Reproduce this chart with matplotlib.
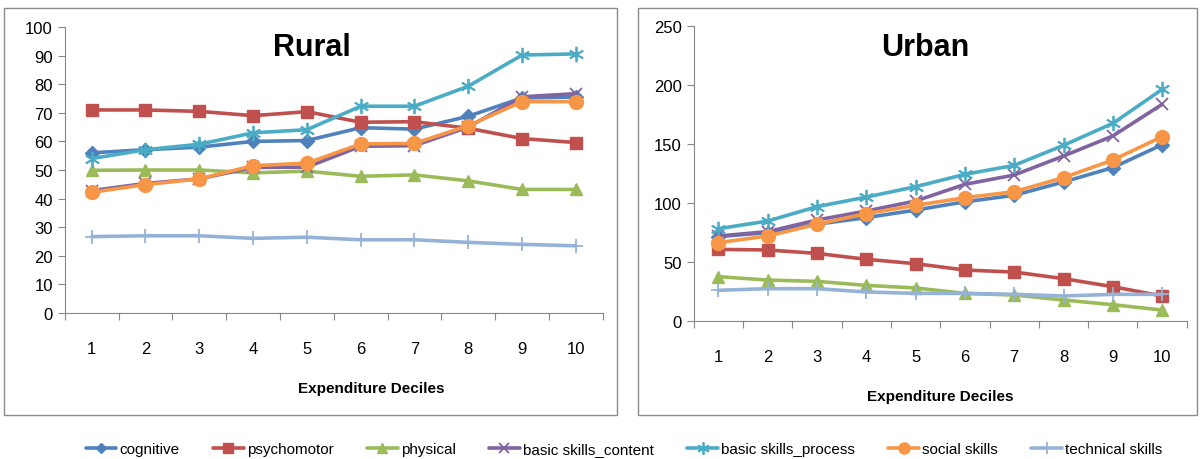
import matplotlib.pyplot as plt
from matplotlib.patches import Rectangle

plt.rcParams['font.family'] = ['Liberation Sans', 'DejaVu Sans']

deciles = [1, 2, 3, 4, 5, 6, 7, 8, 9, 10]

series_names = ['cognitive', 'psychomotor', 'physical', 'basic skills_content',
                'basic skills_process', 'social skills', 'technical skills']

rural_cognitive = [56, 57.1, 58, 60, 60.3, 64.8, 64.3, 68.8, 75.2, 75.5]
rural_psychomotor = [71, 71, 70.5, 69, 70.4, 66.7, 66.9, 64.6, 61, 59.6]
rural_physical = [49.9, 50, 50, 49, 49.6, 47.8, 48.3, 46.2, 43.2, 43.2]
rural_content = [42.8, 45.3, 46.9, 50.9, 51, 58.3, 58.5, 65, 75.6, 76.7]
rural_process = [54, 57.1, 59, 63, 64.1, 72.3, 72.3, 79.3, 90.2, 90.6]
rural_social = [42.2, 44.9, 46.9, 51.5, 52.4, 59.1, 59.3, 65.5, 73.9, 73.9]
rural_technical = [26.7, 27, 27, 26.1, 26.5, 25.6, 25.6, 24.7, 24, 23.5]

urban_cognitive = [71.5, 74.9, 82, 87.6, 94, 101, 106.5, 117.8, 130, 149.4]
urban_psychomotor = [60.7, 60.2, 57.3, 52.3, 48.6, 43.2, 41.5, 35.9, 29.1, 21.2]
urban_physical = [37.6, 34.7, 33.6, 30.2, 28, 23.4, 22, 17.8, 13.8, 9.3]
urban_content = [72, 75.7, 85.6, 93.2, 101.7, 115.8, 123.7, 139.8, 156.8, 183.6]
urban_process = [78.2, 84.7, 96.9, 105, 113.8, 124.3, 131.9, 148.9, 167.5, 196.3]
urban_social = [66.4, 72, 82, 91, 98, 104.5, 109.6, 121.5, 136.4, 156.2]
urban_technical = [26, 27.4, 27.4, 24.6, 23.4, 23.4, 22.6, 21.2, 22.6, 22.6]

colors = ['#4F81BD', '#C0504D', '#9BBB59', '#8064A2', '#4BACC6', '#F79646', '#95B3D7']
# diamond, square, triangle, cross, asterisk, circle, plus
markers = ['D', 's', '^', 'x', (6, 2, 0), 'o', '+']
msizes = [7, 9, 9, 9, 11, 10, 10]


def drawPanel(ax, data, title, ymax, ystep, title_x, label_x):
    lines = []
    for idx, vals in enumerate(data):
        mk = markers[idx]
        kw = dict(color=colors[idx], lw=2.6, marker=mk, markersize=msizes[idx],
                  label=series_names[idx], solid_capstyle='round')
        if mk in ('x', '+') or isinstance(mk, tuple):
            kw['markeredgewidth'] = 1.3
        ln, = ax.plot(deciles, vals, **kw)
        lines.append(ln)

    ax.set_xlim(0.5, 10.5)
    ax.set_ylim(0, ymax)
    ax.set_yticks(range(0, ymax + 1, ystep))
    ax.set_xticks([x + 0.5 for x in range(0, 11)])
    ax.set_xticklabels([])
    ax.set_xticks(deciles, minor=True)
    ax.set_xticklabels([str(d) for d in deciles], minor=True)
    ax.tick_params(axis='x', which='major', direction='out', length=5, color='#868686')
    ax.tick_params(axis='x', which='minor', length=0, pad=20, labelsize=12)
    ax.tick_params(axis='y', direction='out', length=5, color='#868686', labelsize=12)
    for side in ['top', 'right']:
        ax.spines[side].set_visible(False)
    for side in ['left', 'bottom']:
        ax.spines[side].set_color('#868686')
    ax.set_xlabel('Expenditure Deciles', fontsize=11, fontweight='bold', labelpad=18)
    ax.xaxis.label.set_x(label_x)
    ax.text(title_x, 0.93, title, transform=ax.transAxes, ha='center', va='center',
            fontsize=22, fontweight='bold')
    return lines


fig = plt.figure(figsize=(12, 4.6), dpi=100)

# panel frames
fig.patches.append(Rectangle((4 / 1200, 1 - 416 / 460), 613 / 1200, 407 / 460,
                             transform=fig.transFigure, fill=False, ec='#8c8c8c', lw=1))
fig.patches.append(Rectangle((638 / 1200, 1 - 416 / 460), 559 / 1200, 407 / 460,
                             transform=fig.transFigure, fill=False, ec='#8c8c8c', lw=1))

ax1 = fig.add_axes([0.054, 0.3174, 0.4483, 0.6217])
ax2 = fig.add_axes([0.578, 0.300, 0.411, 0.6413])

rural = [rural_cognitive, rural_psychomotor, rural_physical, rural_content,
         rural_process, rural_social, rural_technical]
urban = [urban_cognitive, urban_psychomotor, urban_physical, urban_content,
         urban_process, urban_social, urban_technical]

handles = drawPanel(ax1, rural, 'Rural', 100, 10, 0.46, 0.57)
drawPanel(ax2, urban, 'Urban', 250, 50, 0.47, 0.5)

fig.legend(handles=handles, loc='center', bbox_to_anchor=(0.52, 1 - 450 / 460),
           ncol=7, frameon=False, fontsize=11, handlelength=2.0, handletextpad=0.2,
           columnspacing=2.2, markerscale=0.8)

fig.savefig('out.png', dpi=100)
